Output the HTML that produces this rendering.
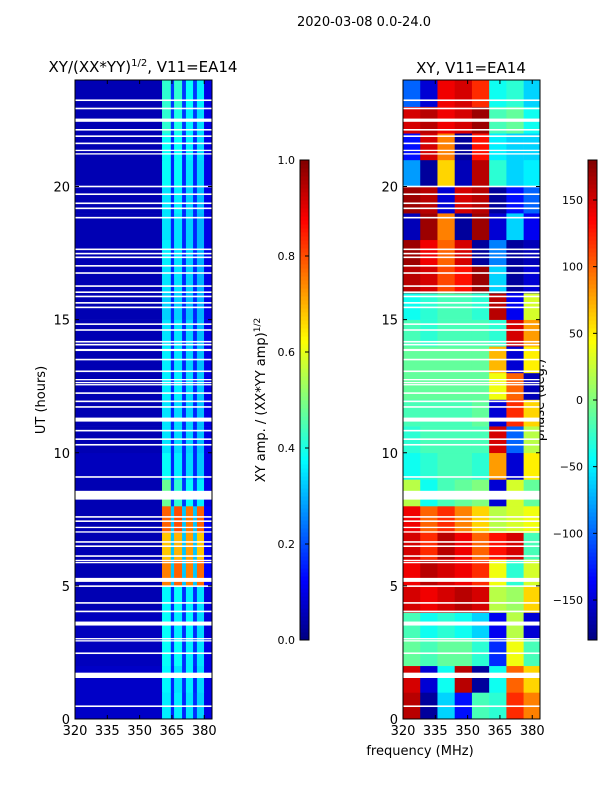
<!DOCTYPE html>
<html><head><meta charset="utf-8"><style>
html,body{margin:0;padding:0;background:#fff;}
svg{display:block;font-family:"DejaVu Sans","Liberation Sans",sans-serif;}
</style></head><body>
<svg id="fig" width="600" height="800" viewBox="0 0 600 800" xmlns="http://www.w3.org/2000/svg">
<text x="364" y="26" font-size="13" text-anchor="middle">2020-03-08 0.0-24.0</text>
<text x="143" y="72" font-size="15" text-anchor="middle">XY/(XX*YY)<tspan font-size="10" dy="-6">1/2</tspan><tspan dy="6">, V11=EA14</tspan></text>
<text x="471" y="73" font-size="15" text-anchor="middle">XY, V11=EA14</text>
<text transform="translate(45,400) rotate(-90)" font-size="13" text-anchor="middle">UT (hours)</text>
<text transform="translate(265,400) rotate(-90)" font-size="13" text-anchor="middle">XY amp. / (XX*YY amp)<tspan font-size="9" dy="-5">1/2</tspan></text>
<text transform="translate(544,400) rotate(-90)" font-size="13" text-anchor="middle">phase (deg.)</text>
<text x="420" y="755" font-size="13" text-anchor="middle">frequency (MHz)</text>
<g id="g"></g>
</svg>
<script>
const ampFreqEdges = [320, 360.4, 364.5, 366, 369.7, 371.5, 374.8, 376.6, 379.9, 383.6];
const ampGrid = [
 [0.07,0.36,0.16,0.36,0.16,0.35,0.17,0.33,0.10],
 [0.07,0.37,0.16,0.35,0.17,0.36,0.16,0.34,0.10],
 [0.06,0.38,0.17,0.38,0.17,0.36,0.17,0.35,0.10],
 [0.06,0.38,0.17,0.36,0.17,0.37,0.17,0.34,0.09],
 [0.05,0.37,0.17,0.38,0.17,0.36,0.17,0.35,0.09],
 [0.05,0.75,0.32,0.78,0.32,0.75,0.32,0.77,0.12],
 [0.05,0.68,0.32,0.70,0.32,0.72,0.32,0.68,0.12],
 [0.05,0.78,0.32,0.80,0.32,0.76,0.32,0.78,0.12],
 [0.05,0.48,0.18,0.42,0.18,0.38,0.18,0.36,0.10],
 [0.06,0.38,0.16,0.36,0.16,0.34,0.16,0.32,0.10],
 [0.05,0.35,0.16,0.34,0.16,0.33,0.16,0.31,0.10],
 [0.05,0.35,0.16,0.34,0.16,0.33,0.16,0.31,0.10],
 [0.05,0.36,0.16,0.36,0.16,0.34,0.16,0.32,0.10],
 [0.05,0.36,0.16,0.35,0.16,0.33,0.16,0.31,0.10],
 [0.05,0.35,0.16,0.35,0.16,0.33,0.16,0.31,0.10],
 [0.05,0.33,0.16,0.33,0.16,0.31,0.16,0.30,0.10],
 [0.05,0.35,0.16,0.35,0.16,0.33,0.16,0.30,0.10],
 [0.05,0.36,0.16,0.35,0.16,0.33,0.16,0.30,0.10],
 [0.05,0.35,0.16,0.35,0.16,0.33,0.16,0.30,0.10],
 [0.05,0.35,0.16,0.36,0.16,0.33,0.16,0.31,0.10],
 [0.05,0.38,0.16,0.38,0.16,0.35,0.16,0.33,0.10],
 [0.05,0.38,0.16,0.38,0.16,0.36,0.16,0.34,0.10],
 [0.05,0.42,0.18,0.40,0.18,0.36,0.18,0.34,0.10],
 [0.05,0.42,0.18,0.42,0.18,0.38,0.18,0.36,0.10]
];
const phaseFreqEdges = [320, 328, 336, 344, 352, 360, 368, 376, 383.6];
const phaseGrid = [
 [160,-170,-60,-130,-20,-30,120,90],
 [150,-150,-40,160,-170,-40,100,60],
 [-10,-20,-10,-10,-30,-120,40,-20],
 [-20,-40,-30,-40,-60,-140,20,-150],
 [150,140,150,160,150,20,10,60],
 [140,160,150,140,120,40,-30,30],
 [150,120,160,140,100,130,150,-20],
 [140,100,120,90,60,20,30,40],
 [20,-40,-20,-10,0,-150,30,-10],
 [-40,-30,-20,-20,-30,80,-150,50],
 [-30,-20,-20,-20,-20,150,-100,20],
 [-20,-20,-20,-20,-10,-150,120,60],
 [-10,-10,-10,-10,-10,40,100,-160],
 [-10,-10,-10,-10,-10,70,-150,50],
 [-20,-30,-20,-20,-20,-30,150,80],
 [-40,-30,-20,-20,-30,160,-140,30],
 [160,150,110,130,170,-60,-170,-150],
 [170,140,100,150,-170,-90,-170,-160],
 [-160,170,90,-170,170,-150,-60,-140],
 [170,160,-150,150,160,-170,-130,-100],
 [-80,-170,60,-160,160,-30,-60,-50],
 [-130,150,90,-170,130,-50,-60,-60],
 [150,160,140,150,170,-20,-10,-40],
 [-100,-150,140,150,120,-40,-30,-60]
];
const gapHours = [0.45,1.54,2.44,2.91,2.99,3.51,4.01,4.33,4.96,5.15,5.85,5.93,6.09,6.46,6.62,7.0,7.17,7.40,7.56,8.24,8.51,9.06,10.27,10.48,10.80,11.17,11.69,11.90,12.21,12.53,12.61,12.72,13.03,13.47,13.82,14.03,14.14,14.58,14.80,15.43,15.60,15.84,16.0,16.23,16.72,16.99,17.31,17.45,17.61,18.80,19.15,19.34,19.68,19.97,21.2,21.33,21.59,21.86,22.10,22.43,22.90,23.21];
const gapWidths = [0.06,0.2,0.06,0.05,0.05,0.15,0.06,0.06,0.06,0.15,0.05,0.05,0.06,0.06,0.06,0.05,0.05,0.06,0.06,0.3,0.06,0.06,0.06,0.06,0.06,0.15,0.06,0.06,0.06,0.05,0.05,0.05,0.06,0.06,0.08,0.06,0.06,0.06,0.06,0.06,0.06,0.06,0.06,0.06,0.06,0.06,0.06,0.06,0.06,0.06,0.06,0.06,0.06,0.06,0.05,0.05,0.06,0.06,0.06,0.12,0.06,0.06];
const xTicks = [320,335,350,365,380];
const yTicks = [0,5,10,15,20];
const ampTicks = [0.0,0.2,0.4,0.6,0.8,1.0];
const phaseTicks = [-150,-100,-50,0,50,100,150];

const NS='http://www.w3.org/2000/svg';
const g=document.getElementById('g');
function jet(v){v=Math.max(0,Math.min(1,v));
 const r=Math.max(0,Math.min(1,1.5-Math.abs(4*v-3)));
 const gg=Math.max(0,Math.min(1,1.5-Math.abs(4*v-2)));
 const b=Math.max(0,Math.min(1,1.5-Math.abs(4*v-1)));
 return `rgb(${Math.round(r*255)},${Math.round(gg*255)},${Math.round(b*255)})`;}
function mk(tag,attrs,parent){const e=document.createElementNS(NS,tag);for(const k in attrs)e.setAttribute(k,attrs[k]);(parent||g).appendChild(e);return e;}
const PY0=80,PY1=719;
function yScale(h){return PY1-(h/24)*(PY1-PY0);}
function panel(x0,x1,edges,grid,norm,name){
 const fmin=320,fmax=383.6;
 const xs=f=>x0+(f-fmin)/(fmax-fmin)*(x1-x0);
 for(let r=0;r<grid.length;r++){
  for(let c=0;c<grid[r].length;c++){
   const xa=xs(edges[c]),xb=xs(edges[c+1]),ya=yScale(r+1),yb=yScale(r);
   const e=mk('rect',{x:xa,y:ya,width:xb-xa+0.3,height:yb-ya+0.3,fill:jet(norm(grid[r][c]))});
   
   
  }
 }
 for(let i=0;i<gapHours.length;i++){
  const ya=yScale(gapHours[i]+gapWidths[i]),yb=yScale(gapHours[i]);
  const e=mk('rect',{x:x0,y:ya,width:x1-x0,height:Math.max(1.2,yb-ya),fill:'#fff'});
  
  
 }
 const fr=mk('rect',{x:x0,y:PY0,width:x1-x0,height:PY1-PY0,fill:'none',stroke:'#000','stroke-width':1});
 
 
 xTicks.forEach(t=>{const x=xs(t);
  mk('line',{x1:x,x2:x,y1:PY1,y2:PY1-4,stroke:'#000'});
  mk('line',{x1:x,x2:x,y1:PY0,y2:PY0+4,stroke:'#000'});
  const tx=mk('text',{x:x,y:PY1+16,'font-size':13,'text-anchor':'middle'});tx.textContent=t;
  
  
 });
 yTicks.forEach(t=>{const y=yScale(t);
  mk('line',{x1:x0,x2:x0+4,y1:y,y2:y,stroke:'#000'});
  mk('line',{x1:x1,x2:x1-4,y1:y,y2:y,stroke:'#000'});
  const tx=mk('text',{x:x0-5,y:y+5,'font-size':13,'text-anchor':'end'});tx.textContent=t;
  
  
 });
}
panel(75,212,ampFreqEdges,ampGrid,v=>v,'amp-heatmap');
panel(403,540,phaseFreqEdges,phaseGrid,v=>(v+180)/360,'phase-heatmap');

function colorbar(x,name,ticks,vmin,vmax){
 const y0=160,y1=640,n=120;
 for(let i=0;i<n;i++){const e=mk('rect',{x:x,y:y1-(i+1)*(y1-y0)/n,width:9,height:(y1-y0)/n+0.5,fill:jet((i+0.5)/n)});
  
  }
 const fr=mk('rect',{x:x,y:y0,width:9,height:y1-y0,fill:'none',stroke:'#000'});
 
 
 ticks.forEach(t=>{const y=y1-(t-vmin)/(vmax-vmin)*(y1-y0);
  mk('line',{x1:x+9,x2:x+5,y1:y,y2:y,stroke:'#000'});
  const tx=mk('text',{x:x-5,y:y+4,'font-size':11,'text-anchor':'end'});
  tx.textContent=(vmax<=1?t.toFixed(1):String(t).replace('-','\u2212'));
  
  
 });
}
colorbar(300,'amp-colorbar',ampTicks,0,1);
colorbar(588,'phase-colorbar',phaseTicks,-180,180);
</script>
</body></html>
